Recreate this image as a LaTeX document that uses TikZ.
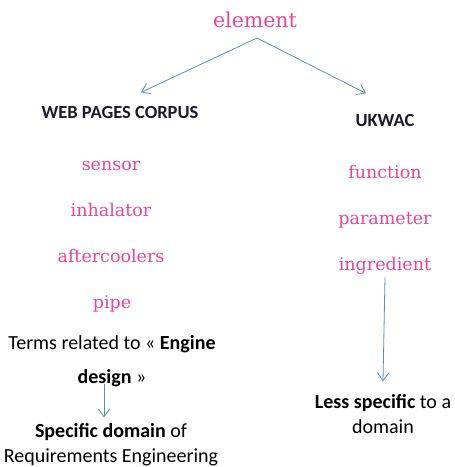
\documentclass[tikz,border=0pt]{standalone}
\usepackage{fontspec}
\setmainfont{Carlito}
\newfontfamily\termfont{DejaVu Serif}
\usepackage{tikz}
\usetikzlibrary{arrows.meta,positioning,calc}
\definecolor{TermPink}{HTML}{E6459A}
\definecolor{Link}{HTML}{5B8BC5}
\definecolor{Head}{HTML}{1C1A2B}

\begin{document}
\begin{tikzpicture}[x=1pt,y=-1pt,
    term/.style={anchor=base,text=TermPink,font=\termfont\fontsize{17.5}{20}\selectfont},
    corpus/.style={anchor=base,text=Head,font=\bfseries\fontsize{18.5}{22}\selectfont},
    note/.style={anchor=base,align=center,font=\fontsize{20}{25}\selectfont},
    arrow/.style={-{Straight Barb[length=2.8mm,width=4mm]},draw=Link,line width=0.8pt}
]
\useasboundingbox (0,0) rectangle (455,467);
\node[term,font=\termfont\fontsize{20.5}{24}\selectfont] (elem) at (255,27) {element};
\coordinate (split) at (257,38);

% left branch (base = last line of a note)
\node[corpus] (web) at (120,118) {WEB PAGES CORPUS};
\node[term] (sensor) at (111,170) {sensor};
\node[term] (inhal) at (111,216) {inhalator};
\node[term] (after) at (111,262) {aftercoolers};
\node[term] (pipe) at (112,308) {pipe};
\node[note,font=\fontsize{20}{34}\selectfont] (terms) at (112,383) {Terms related to « \textbf{Engine}\\\textbf{design} »};
\node[note] (spec) at (111,462) {\textbf{Specific domain} of\\Requirements Engineering};

% right branch
\node[corpus] (ukwac) at (385,126) {UKWAC};
\node[term] (func) at (385,178) {function};
\node[term] (param) at (385,224) {parameter};
\node[term] (ingr) at (385,270) {ingredient};
\node[note] (less) at (383,433) {\textbf{Less specific} to a\\domain};

\draw[arrow] (split) -- ([xshift=21pt,yshift=10pt]web.north);
\draw[arrow] (split) -- ([xshift=-19pt,yshift=17pt]ukwac.north);
\draw[arrow] (ingr.south) -- ([yshift=9pt]less.north);
\draw[arrow,shorten <=-6pt] ([xshift=-8pt]terms.south) -- ([xshift=-7pt,yshift=2pt]spec.north);
\end{tikzpicture}
\end{document}
